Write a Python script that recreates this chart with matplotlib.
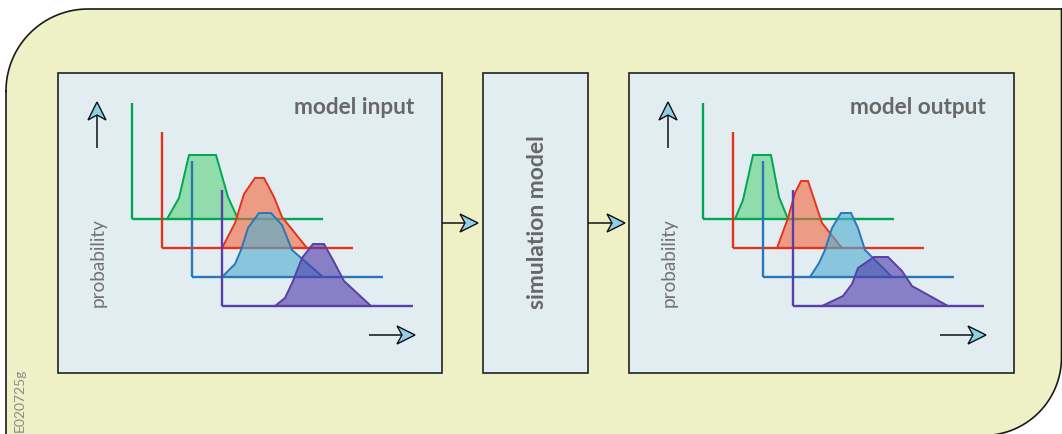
import numpy as np
import matplotlib
matplotlib.use("Agg")
import matplotlib.pyplot as plt
from matplotlib.patches import Rectangle, Polygon

# ---------------- data ----------------
panel_titles = ["model input", "simulation model", "model output"]
axis_label = "probability"
figure_code = "E020725g"

# distributions: x = position along the value axis (0..191), p = probability height (0..116)
in_green_x = [35, 47, 57, 84, 96, 106]
in_green_p = [0, 21, 64, 64, 22, 0]
in_red_x = [60, 73, 82, 93, 102, 112, 120, 145]
in_red_p = [0, 25, 54, 70, 70, 51, 31, 0]
in_blue_x = [30, 43, 49, 56, 67, 79, 90, 100, 131]
in_blue_p = [0, 13, 27, 49, 64, 64, 52, 27, 0]
in_purple_x = [53, 63, 71, 80, 91, 102, 111, 122, 149]
in_purple_p = [0, 8, 25, 48, 62, 62, 46, 25, 0]

out_green_x = [32, 40, 50, 68, 76, 85]
out_green_p = [0, 19, 64, 64, 22, 0]
out_red_x = [44, 55, 62, 68, 75, 89, 109]
out_red_p = [0, 30, 55, 67, 67, 25, 0]
out_blue_x = [47, 56, 62, 69, 78, 88, 95, 102, 129]
out_blue_p = [0, 14, 27, 49, 64, 64, 49, 27, 0]
out_purple_x = [29, 50, 59, 65, 81, 95, 109, 119, 155]
out_purple_p = [0, 10, 22, 38, 49, 49, 35, 20, 0]

# ---------------- style ----------------
W, H = 1062, 434
BG_OUT = "#eef0c6"
PANEL = "#e2edf1"
TXT = "#676767"
HEAD = "#8fd0e8"
line_cols = ["#00a651", "#e2341d", "#2a77b8", "#5b3ea6"]
fill_cols = ["#5ad17b", "#f3673c", "#4dadd2", "#4d38aa"]
FONT = ["Lato", "DejaVu Sans"]

fig = plt.figure(figsize=(W / 100, H / 100), dpi=100)
fig.patch.set_facecolor("white")
bg = fig.add_axes([0, 0, 1, 1])
bg.set_xlim(0, W)
bg.set_ylim(H, 0)
bg.axis("off")


def arc(cx, cy, r, a0, a1, n=40):
    t = np.radians(np.linspace(a0, a1, n))
    return np.column_stack([cx + r * np.cos(t), cy + r * np.sin(t)])


# outer rounded frame (top-left and bottom-right corners rounded)
L, T, R, B = 6, 9, 1061.5, 435.5
r1, r2 = 82, 78
pts = [(L, H + 20), (L, T + r1)]
pts += list(arc(L + r1, T + r1, r1, 180, 270))
pts += [(R, T), (R, B - r2)]
pts += list(arc(R - r2, B - r2, r2, 0, 90))
pts += [(L - 20, B + 20)]
pts = np.array(pts)
bg.add_patch(Polygon(pts, closed=True, facecolor=BG_OUT, edgecolor="none", zorder=1))
outline = np.array([(L, H + 20), (L, T + r1)] + list(arc(L + r1, T + r1, r1, 180, 270))
                   + [(W + 20, T)])
bg.plot(outline[:, 0], outline[:, 1], color="#1a1a1a", lw=1.2, zorder=3)
seg = np.array([(R, T), (R, B - r2)] + list(arc(R - r2, B - r2, r2, 0, 90)) + [(L + 100, B)])
bg.plot(seg[:, 0], seg[:, 1], color="#1a1a1a", lw=1.2, zorder=3)

# panels
panels = [(58, 73, 384, 300), (483, 73, 105, 300), (629, 73, 385, 300)]
for (x, y, w, h) in panels:
    bg.add_patch(Rectangle((x, y), w, h, facecolor=PANEL, edgecolor="#222222", lw=1.2, zorder=4))


def arrow(x0, y0, x1, y1, length=18, half=9, notch=13):
    d = np.array([x1 - x0, y1 - y0], float)
    d /= np.hypot(*d)
    n = np.array([-d[1], d[0]])
    tip = np.array([x1, y1], float)
    back = tip - d * length
    nb = tip - d * notch
    bg.plot([x0, nb[0]], [y0, nb[1]], color="#111111", lw=1.1, zorder=6, solid_capstyle="butt")
    poly = [tip, back + n * half, nb, back - n * half]
    bg.add_patch(Polygon(poly, closed=True, facecolor=HEAD, edgecolor="#111111", lw=1.0,
                         joinstyle="miter", zorder=7))


arrow(442, 223, 478, 223)
arrow(588, 223, 625, 223)

# axis arrows and labels in panels
for ox in (0, 571):
    arrow(97 + ox, 148, 97 + ox, 102)
    arrow(369 + ox, 335, 415 + ox, 335)
    bg.text(98 + ox, 263, axis_label, rotation=90, ha="center", va="center",
            fontsize=13.6, color="#727272", family=FONT, zorder=8)

bg.text(414, 108, panel_titles[0], ha="right", va="center", fontsize=16.3,
        fontweight="bold", color=TXT, family=FONT, zorder=8)
bg.text(986, 108, panel_titles[2], ha="right", va="center", fontsize=16.3,
        fontweight="bold", color=TXT, family=FONT, zorder=8)
bg.text(537, 222, panel_titles[1], rotation=90, ha="center", va="center", fontsize=16.5,
        fontweight="bold", color=TXT, family=FONT, zorder=8)
bg.text(20, 400, figure_code, rotation=90, ha="center", va="center", fontsize=10,
        color="#8a8a8a", family=FONT, zorder=8)


# distributions, each in its own small axes
def dist_axes(x0, base, color_i, xs, ps):
    aw, ah = 191, 116
    ax = fig.add_axes([x0 / W, (H - base) / H, aw / W, ah / H])
    ax.set_xlim(0, aw)
    ax.set_ylim(0, ah)
    ax.set_facecolor("none")
    ax.set_xticks([])
    ax.set_yticks([])
    for s in ("top", "right"):
        ax.spines[s].set_visible(False)
    for s in ("left", "bottom"):
        ax.spines[s].set_color(line_cols[color_i])
        ax.spines[s].set_linewidth(1.7)
        ax.spines[s].set_capstyle("butt")
    ax.fill(xs, ps, facecolor=fill_cols[color_i], alpha=0.6, edgecolor="none", clip_on=False)
    ax.plot(xs, ps, color=line_cols[color_i], lw=1.4, clip_on=False, solid_joinstyle="miter")
    return ax


in_sets = [(in_green_x, in_green_p), (in_red_x, in_red_p), (in_blue_x, in_blue_p), (in_purple_x, in_purple_p)]
out_sets = [(out_green_x, out_green_p), (out_red_x, out_red_p), (out_blue_x, out_blue_p), (out_purple_x, out_purple_p)]
for i, (xs, ps) in enumerate(in_sets):
    dist_axes(132 + 30 * i, 219 + 29 * i, i, xs, ps)
for i, (xs, ps) in enumerate(out_sets):
    dist_axes(703 + 30 * i, 219 + 29 * i, i, xs, ps)

fig.savefig("out.png", dpi=100, facecolor="white")
